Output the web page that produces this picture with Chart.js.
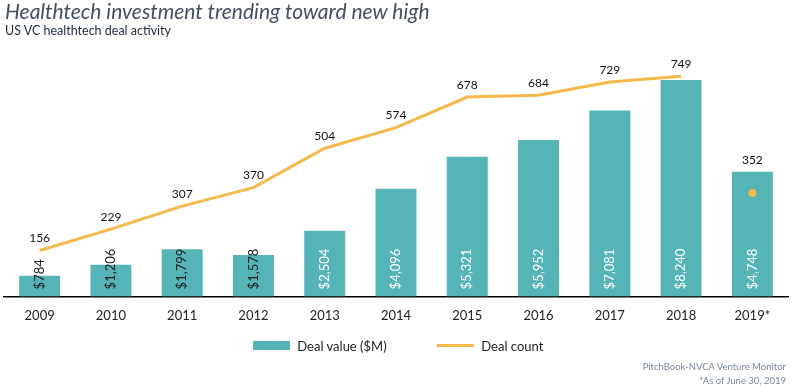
<!DOCTYPE html>
<html>
<head>
<meta charset="utf-8">
<title>Healthtech investment</title>
<script src="https://cdn.jsdelivr.net/npm/chart.js@4"></script>
<style>
body{margin:0;background:#fff;font-family:Lato,sans-serif;width:792px;height:389px;overflow:hidden;position:relative}
#wrap{position:absolute;left:0;top:0;width:792px;height:389px}
h1{position:absolute;left:5px;top:-2px;margin:0;font-size:21px;font-style:italic;font-weight:400;color:#454f62;white-space:nowrap}
h2{position:absolute;left:5px;top:23px;margin:0;font-size:12.5px;font-weight:400;color:#1f2a3a;white-space:nowrap}
.legend{position:absolute;top:336px;font-size:13px;color:#222;white-space:nowrap}
.legend span{display:inline-block;vertical-align:middle}
.src{position:absolute;right:6px;text-align:right;font-size:9.5px;color:#7b8798;white-space:nowrap}
</style>
</head>
<body>
<div id="wrap"><canvas id="chart" width="792" height="389"></canvas></div>
<h1>Healthtech investment trending toward new high</h1>
<h2>US VC healthtech deal activity</h2>
<div class="legend" style="left:253px"><span style="width:37px;height:9px;background:#55b4b6"></span> <span style="margin-left:4px">Deal value ($M)</span></div>
<div class="legend" style="left:437px"><span style="width:37px;height:3px;background:#f5b94b"></span> <span style="margin-left:4px">Deal count</span></div>
<div class="src" style="top:361px">PitchBook-NVCA Venture Monitor</div>
<div class="src" style="top:375px">*As of June 30, 2019</div>
<script>
// ===== DATA =====
const years=['2009','2010','2011','2012','2013','2014','2015','2016','2017','2018','2019*']
const dealValue=[784,1206,1799,1578,2504,4096,5321,5952,7081,8240,4748]
const dealCount=[156,229,307,370,504,574,678,684,729,749,352]

const TEAL='#55b4b6'
const ORANGE='#f5b94b'

// value labels on bars + count labels above line
const labels={
id:'labels',
afterDatasetsDraw(chart){
const ctx=chart.ctx
const lineMeta=chart.getDatasetMeta(0)
const barMeta=chart.getDatasetMeta(1)
ctx.save()
ctx.font='13px Lato'
ctx.textBaseline='middle'
barMeta.data.forEach((b,i)=>{
ctx.save()
ctx.translate(b.x,b.base-7)
ctx.rotate(-Math.PI/2)
ctx.textAlign='left'
ctx.fillStyle=i<4?'#222':'#fff'
ctx.fillText('$'+dealValue[i].toLocaleString('en-US'),0,0)
ctx.restore()
})
ctx.font='12px Lato'
ctx.fillStyle='#111'
ctx.textAlign='center'
lineMeta.data.forEach((p,i)=>{
const y=Math.min(p.y,barMeta.data[i].y)-12
ctx.fillText(String(dealCount[i]),p.x,y)
})
ctx.restore()
}
}

function draw(){
new Chart(document.getElementById('chart'),{
data:{
labels:years,
datasets:[
{type:'line',label:'Deal count',data:dealCount,yAxisID:'y1',order:0,
borderColor:ORANGE,backgroundColor:ORANGE,borderWidth:3,tension:0,
pointRadius:ctx=>ctx.dataIndex===10?4:0,pointBorderWidth:0,
segment:{borderColor:ctx=>ctx.p1DataIndex===10?'transparent':ORANGE}},
{type:'bar',label:'Deal value ($M)',data:dealValue,yAxisID:'y',order:1,
backgroundColor:TEAL,categoryPercentage:1,barPercentage:0.575}
]
},
options:{
responsive:false,animation:false,
layout:{padding:{left:2,right:4,top:50,bottom:53}},
plugins:{legend:{display:false},tooltip:{enabled:false}},
scales:{
x:{grid:{display:false,drawTicks:false},border:{display:true,color:'#000',width:1.5},
ticks:{padding:12,color:'#222',font:{family:'Lato',size:13}}},
y:{display:false,min:0,max:9384},
y1:{display:false,min:0,max:838}
}
},
plugins:[labels]
})
}
document.fonts.load('13px Lato').then(draw,draw)
</script>
</body>
</html>
